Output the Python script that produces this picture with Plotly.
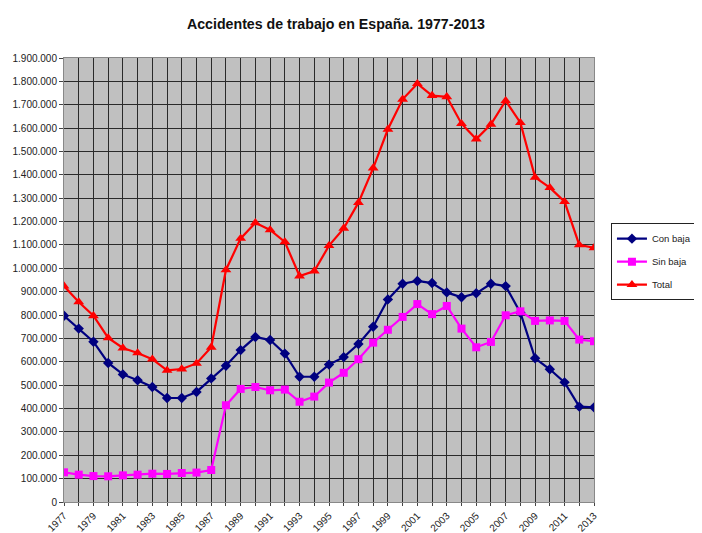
import plotly.graph_objects as go

years = list(range(1977, 2014))

con_baja = [797000, 742000, 686000, 595000, 546000, 521000, 492000, 445000, 445000, 471000,
            529000, 583000, 650000, 706000, 693000, 635000, 536000, 536000, 588000, 620000,
            676000, 750000, 867000, 934000, 946000, 937000, 897000, 876000, 893000, 934000,
            924000, 810000, 615000, 568000, 512000, 408000, 405000]

sin_baja = [127000, 117000, 111000, 110000, 114000, 117000, 121000, 120000, 124000, 126000,
            137000, 414000, 484000, 492000, 478000, 481000, 429000, 451000, 511000, 553000,
            611000, 682000, 737000, 792000, 847000, 804000, 839000, 742000, 662000, 685000,
            799000, 816000, 775000, 777000, 775000, 695000, 688000]

total = [924000, 856000, 797000, 702000, 659000, 638000, 611000, 563000, 569000, 593000,
         662000, 993000, 1128000, 1195000, 1164000, 1113000, 967000, 988000, 1097000, 1171000,
         1281000, 1429000, 1595000, 1723000, 1790000, 1739000, 1734000, 1619000, 1553000, 1616000,
         1717000, 1623000, 1389000, 1345000, 1285000, 1100000, 1088000]

x_tick_labels = [str(y) if y % 2 == 1 else "" for y in years]

FONT = "Liberation Sans Narrow, Liberation Sans, Arial, sans-serif"

fig = go.Figure()
fig.add_trace(go.Scatter(x=years, y=con_baja, name="Con baja", mode="lines+markers",
                         legendgroup="g1",
                         line=dict(color="#000080", width=2.2),
                         marker=dict(symbol="diamond", size=8, color="#000080")))
fig.add_trace(go.Scatter(x=years, y=sin_baja, name="Sin baja", mode="lines+markers",
                         legendgroup="g2",
                         line=dict(color="#FF00FF", width=2.2),
                         marker=dict(symbol="square", size=8, color="#FF00FF")))
fig.add_trace(go.Scatter(x=years, y=total, name="Total", mode="lines+markers",
                         legendgroup="g3",
                         line=dict(color="#FF0000", width=2.2),
                         marker=dict(symbol="triangle-up", size=9.5, color="#FF0000")))

fig.update_layout(
    width=694, height=525,
    margin=dict(l=56, r=108, t=50, b=31, autoexpand=False),
    paper_bgcolor="white",
    plot_bgcolor="#c0c0c0",
    separators=",.",
    font=dict(family=FONT, size=10, color="#222"),
    title=dict(text="<b>Accidentes de trabajo en España. 1977-2013</b>",
               x=0.4726, xanchor="center", xref="container",
               y=1 - 11 / 525, yanchor="top", yref="container",
               font=dict(family=FONT, size=14.2, color="#111")),
    legend=dict(x=1.032, xanchor="left", y=0.628, yanchor="top",
                bordercolor="#222", borderwidth=1, bgcolor="white",
                font=dict(family=FONT, size=9.5, color="#222"),
                itemwidth=30, traceorder="grouped", tracegroupgap=4),
    showlegend=True,
)

fig.update_xaxes(range=[1977, 2013], tickmode="array", tickvals=years, ticktext=x_tick_labels,
                 tickangle=-45, showgrid=True, gridcolor="#2a2a2a", gridwidth=1,
                 showline=True, linecolor="#888", linewidth=1, mirror=True,
                 ticks="outside", ticklen=3, tickcolor="#444", zeroline=False,
                 automargin=False,
                 tickfont=dict(family=FONT, size=10, color="#222"))
fig.update_yaxes(range=[0, 1900000], dtick=100000, tickformat=",d",
                 showgrid=True, gridcolor="#2a2a2a", gridwidth=1,
                 showline=True, linecolor="#888", linewidth=1, mirror=True,
                 ticks="outside", ticklen=4, tickcolor="#444", zeroline=False,
                 automargin=False,
                 tickfont=dict(family=FONT, size=10, color="#222"))

fig.write_html("out.html", config={"displayModeBar": False})
